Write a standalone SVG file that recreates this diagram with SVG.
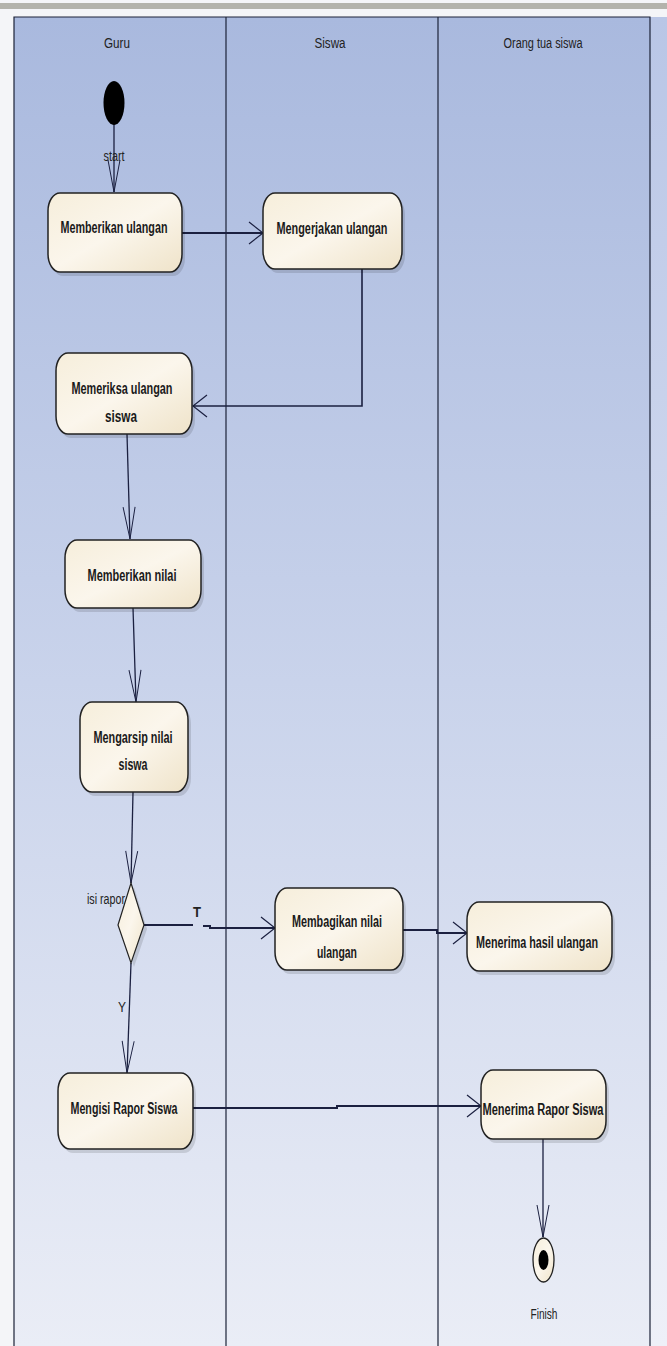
<svg xmlns="http://www.w3.org/2000/svg" width="667" height="1346" viewBox="0 0 667 1346">
<defs>
<linearGradient id="bg" x1="0" y1="0" x2="0" y2="1">
<stop offset="0" stop-color="#a9b9de"/>
<stop offset="0.5" stop-color="#c9d3eb"/>
<stop offset="1" stop-color="#eaedf6"/>
</linearGradient>
<linearGradient id="bg2" x1="0" y1="0" x2="0" y2="1">
<stop offset="0" stop-color="#b9c6e6"/>
<stop offset="1" stop-color="#eef0f8"/>
</linearGradient>
<linearGradient id="nf" x1="0" y1="0" x2="1" y2="1">
<stop offset="0" stop-color="#f6eedb"/>
<stop offset="0.5" stop-color="#fbf6ec"/>
<stop offset="1" stop-color="#efe3c9"/>
</linearGradient>
<marker id="ah" markerUnits="userSpaceOnUse" markerWidth="30" markerHeight="30" viewBox="-16 -15 20 30" refX="0" refY="0" orient="auto">
<path d="M-14,-11 L0,0 L-14,11" fill="none" stroke="#1b2040" stroke-width="1.2"/>
</marker>
<marker id="av" markerUnits="userSpaceOnUse" markerWidth="40" markerHeight="20" viewBox="-34 -10 38 20" refX="0" refY="0" orient="auto">
<path d="M-32,-6 L0,0 L-32,6" fill="none" stroke="#1b2040" stroke-width="1"/>
</marker>
</defs>
<style>
.lane{fill:none;stroke:#1c2238;stroke-width:1.2}
.hdr{font-family:"Liberation Sans",Arial,sans-serif;font-size:14px;fill:#222;text-anchor:middle}
.lbl{font-family:"Liberation Sans",Arial,sans-serif;font-size:14px;fill:#222;text-anchor:middle}
.nt{font-family:"Liberation Sans",Arial,sans-serif;font-size:16px;font-weight:bold;fill:#1a1a1a;text-anchor:middle}
.node{fill:url(#nf);stroke:#222;stroke-width:1.5}
.shadow{fill:#000;opacity:0.12}
.conn{fill:none;stroke:#1b2040;stroke-width:1.3}
.connh{fill:none;stroke:#1b2040;stroke-width:2}
</style>

<!-- background -->
<rect x="0" y="0" width="667" height="1346" fill="#f4f5f8"/>
<rect x="0" y="3" width="667" height="6" fill="#b3b3ac"/>
<rect x="650" y="17" width="17" height="1329" fill="url(#bg2)"/>
<rect x="14" y="17" width="636" height="1329" fill="url(#bg)"/>

<g id="lanes">
<path class="lane" d="M14,1346 V17 H650 V1346"/>
<line class="lane" x1="226" y1="17" x2="226" y2="1346"/>
<line class="lane" x1="438" y1="17" x2="438" y2="1346"/>
<text class="hdr" x="117" y="48" textLength="26" lengthAdjust="spacingAndGlyphs">Guru</text>
<text class="hdr" x="330" y="48" textLength="31" lengthAdjust="spacingAndGlyphs">Siswa</text>
<text class="hdr" x="543" y="48" textLength="79" lengthAdjust="spacingAndGlyphs">Orang tua siswa</text>
</g>

<g id="connectors">
<line class="conn" x1="114" y1="124" x2="114" y2="192" marker-end="url(#av)"/>
<text class="lbl" x="114" y="161" textLength="21" lengthAdjust="spacingAndGlyphs">start</text>
<line class="connh" x1="182" y1="233" x2="263" y2="233" marker-end="url(#ah)"/>
<path class="connh" d="M362,269 V406 H193" marker-end="url(#ah)" style="stroke-width:1.6"/>
<line class="conn" x1="127" y1="434" x2="130" y2="539" marker-end="url(#av)"/>
<line class="conn" x1="133" y1="608" x2="136" y2="702" marker-end="url(#av)"/>
<line class="conn" x1="133" y1="792" x2="131" y2="883" marker-end="url(#av)"/>
<path class="connh" d="M144,925 H193"/>
<text class="lbl" x="197" y="917" style="font-weight:bold" textLength="8" lengthAdjust="spacingAndGlyphs">T</text>
<path class="connh" d="M203,926 H210 V928 H275" marker-end="url(#ah)"/>
<path class="connh" d="M403,930 H437 V933 H467" marker-end="url(#ah)"/>
<line class="conn" x1="131" y1="963" x2="127" y2="1073" marker-end="url(#av)"/>
<text class="lbl" x="122" y="1012" textLength="8" lengthAdjust="spacingAndGlyphs">Y</text>
<path class="connh" d="M193,1108 H337 V1106 H481" marker-end="url(#ah)"/>
<line class="conn" x1="543" y1="1139" x2="543" y2="1237" marker-end="url(#av)"/>
</g>

<g id="start">
<ellipse cx="114" cy="103" rx="10.5" ry="22" fill="#000"/>
</g>

<g id="memberikan-ulangan">
<rect class="shadow" x="51" y="197" width="134" height="79" rx="12" ry="18"/>
<rect class="node" x="48" y="193" width="134" height="79" rx="12" ry="18"/>
<text class="nt" x="114" y="233" textLength="107" lengthAdjust="spacingAndGlyphs">Memberikan ulangan</text>
</g>

<g id="mengerjakan-ulangan">
<rect class="shadow" x="266" y="197" width="139" height="76" rx="12" ry="18"/>
<rect class="node" x="263" y="193" width="139" height="76" rx="12" ry="18"/>
<text class="nt" x="332" y="234" textLength="111" lengthAdjust="spacingAndGlyphs">Mengerjakan ulangan</text>
</g>

<g id="memeriksa-ulangan-siswa">
<rect class="shadow" x="59" y="357" width="136" height="81" rx="12" ry="18"/>
<rect class="node" x="56" y="353" width="136" height="81" rx="12" ry="18"/>
<text class="nt" x="122" y="394" textLength="101" lengthAdjust="spacingAndGlyphs">Memeriksa ulangan</text>
<text class="nt" x="121" y="422" textLength="32" lengthAdjust="spacingAndGlyphs">siswa</text>
</g>

<g id="memberikan-nilai">
<rect class="shadow" x="68" y="544" width="136" height="68" rx="12" ry="18"/>
<rect class="node" x="65" y="540" width="136" height="68" rx="12" ry="18"/>
<text class="nt" x="132" y="581" textLength="89" lengthAdjust="spacingAndGlyphs">Memberikan nilai</text>
</g>

<g id="mengarsip-nilai-siswa">
<rect class="shadow" x="83" y="706" width="108" height="90" rx="12" ry="18"/>
<rect class="node" x="80" y="702" width="108" height="90" rx="12" ry="18"/>
<text class="nt" x="133" y="743" textLength="79" lengthAdjust="spacingAndGlyphs">Mengarsip nilai</text>
<text class="nt" x="133" y="770" textLength="29" lengthAdjust="spacingAndGlyphs">siswa</text>
</g>

<g id="isi-rapor">
<polygon points="134,887 147,929 134,967 121,929" fill="#000" opacity="0.12"/>
<polygon points="131,883 144,925 131,963 118,925" fill="url(#nf)" stroke="#222" stroke-width="1.2"/>
<text class="lbl" x="125" y="904" style="text-anchor:end" textLength="38" lengthAdjust="spacingAndGlyphs">isi rapor</text>
</g>

<g id="membagikan-nilai-ulangan">
<rect class="shadow" x="278" y="892" width="128" height="82" rx="12" ry="18"/>
<rect class="node" x="275" y="888" width="128" height="82" rx="12" ry="18"/>
<text class="nt" x="337" y="927" textLength="90" lengthAdjust="spacingAndGlyphs">Membagikan nilai</text>
<text class="nt" x="337" y="958" textLength="40" lengthAdjust="spacingAndGlyphs">ulangan</text>
</g>

<g id="menerima-hasil-ulangan">
<rect class="shadow" x="470" y="906" width="145" height="69" rx="12" ry="18"/>
<rect class="node" x="467" y="902" width="145" height="69" rx="12" ry="18"/>
<text class="nt" x="537" y="948" textLength="122" lengthAdjust="spacingAndGlyphs">Menerima hasil ulangan</text>
</g>

<g id="mengisi-rapor-siswa">
<rect class="shadow" x="61" y="1077" width="135" height="76" rx="12" ry="18"/>
<rect class="node" x="58" y="1073" width="135" height="76" rx="12" ry="18"/>
<text class="nt" x="124" y="1114" textLength="107" lengthAdjust="spacingAndGlyphs">Mengisi Rapor Siswa</text>
</g>

<g id="menerima-rapor-siswa">
<rect class="shadow" x="484" y="1074" width="125" height="69" rx="12" ry="18"/>
<rect class="node" x="481" y="1070" width="125" height="69" rx="12" ry="18"/>
<text class="nt" x="543" y="1115" textLength="121" lengthAdjust="spacingAndGlyphs">Menerima Rapor Siswa</text>
</g>

<g id="finish">
<ellipse cx="543.5" cy="1260" rx="10.5" ry="22" fill="url(#nf)" stroke="#222" stroke-width="1.3"/>
<ellipse cx="543.5" cy="1260" rx="5" ry="10" fill="#000"/>
<text class="lbl" x="544" y="1319" textLength="27" lengthAdjust="spacingAndGlyphs">Finish</text>
</g>
</svg>
